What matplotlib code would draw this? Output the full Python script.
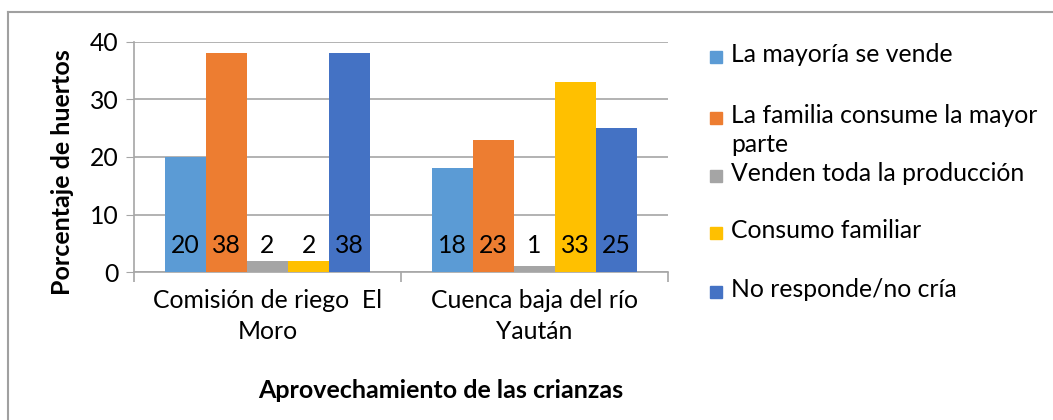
import matplotlib

matplotlib.use("Agg")
import matplotlib.pyplot as plt
from matplotlib.lines import Line2D
from matplotlib.patches import Rectangle
import numpy as np

plt.rcParams["font.family"] = ["Lato", "DejaVu Sans"]

categories = ["Comisión de riego  El\nMoro", "Cuenca baja del río\nYaután"]
series = [
    "La mayoría se vende",
    "La familia consume la mayor\nparte",
    "Venden toda la producción",
    "Consumo familiar",
    "No responde/no cría",
]
values = [
    [20, 18],
    [38, 23],
    [2, 1],
    [2, 33],
    [38, 25],
]
colors = ["#5B9BD5", "#ED7D31", "#A5A5A5", "#FFC000", "#4472C4"]
yticks = [0, 10, 20, 30, 40]

W, H = 1053, 420
FS = 17.8
fig = plt.figure(figsize=(W / 100, H / 100), dpi=100)
ax = fig.add_axes([134 / W, (H - 272) / H, (668 - 134) / W, 230 / H])

n = len(series)
bw = 0.77 / n
x = np.arange(len(categories))
grid_c = "#A6A6A6"
for i, (name, vals, c) in enumerate(zip(series, values, colors)):
    xs = x - 0.385 + bw * (i + 0.5)
    ax.bar(xs, vals, width=bw, color=c, zorder=3)
    for xi, v in zip(xs, vals):
        ax.annotate(str(v), (xi, 0), xytext=(0, 19), textcoords="offset points",
                    ha="center", va="center", fontsize=FS, color="black", zorder=4)

ax.set_xlim(-0.5, len(categories) - 0.5)
ax.set_ylim(0, 40)
ax.set_yticks(yticks)
ax.tick_params(axis="y", labelsize=FS, length=6, color=grid_c, pad=5)
ax.yaxis.grid(True, color=grid_c, lw=1.2, zorder=0)
ax.set_xticks(x)
ax.set_xticklabels(categories, fontsize=FS, linespacing=1.45)
ax.tick_params(axis="x", length=0, pad=12)
ax.set_xticks(np.arange(len(categories) + 1) - 0.5, minor=True)
ax.tick_params(axis="x", which="minor", length=7, color=grid_c, width=1.2)
for s in ["top", "right"]:
    ax.spines[s].set_visible(False)
for s in ["left", "bottom"]:
    ax.spines[s].set_color(grid_c)
    ax.spines[s].set_linewidth(1.2)

fig.text(62 / W, 1 - 172 / H, "Porcentaje de huertos", fontsize=18, fontweight="bold",
         rotation=90, ha="center", va="center")
fig.text(441 / W, 1 - 390 / H, "Aprovechamiento de las crianzas", fontsize=18,
         fontweight="bold", ha="center", va="center")

# legend drawn by hand so the wrapped entry keeps its box on the first line
leg_y = [57, 118, 176, 233, 292]
for name, c, yy in zip(series, colors, leg_y):
    fig.patches.append(Rectangle((710 / W, 1 - (yy + 6) / H), 12 / W, 12 / H,
                                 transform=fig.transFigure, color=c))
    fig.text(731 / W, 1 - (yy - 14) / H, name, fontsize=FS, ha="left", va="top",
             linespacing=1.3, transform=fig.transFigure)

# outer chart border (cropped at right and bottom)
fig.lines.append(Line2D([8 / W, 8 / W], [0, 1 - 12 / H], transform=fig.transFigure,
                        color="#A0A0A0", lw=1.5))
fig.lines.append(Line2D([8 / W, 1], [1 - 12 / H, 1 - 12 / H], transform=fig.transFigure,
                        color="#A0A0A0", lw=1.5))

fig.savefig("out.png", dpi=100)
